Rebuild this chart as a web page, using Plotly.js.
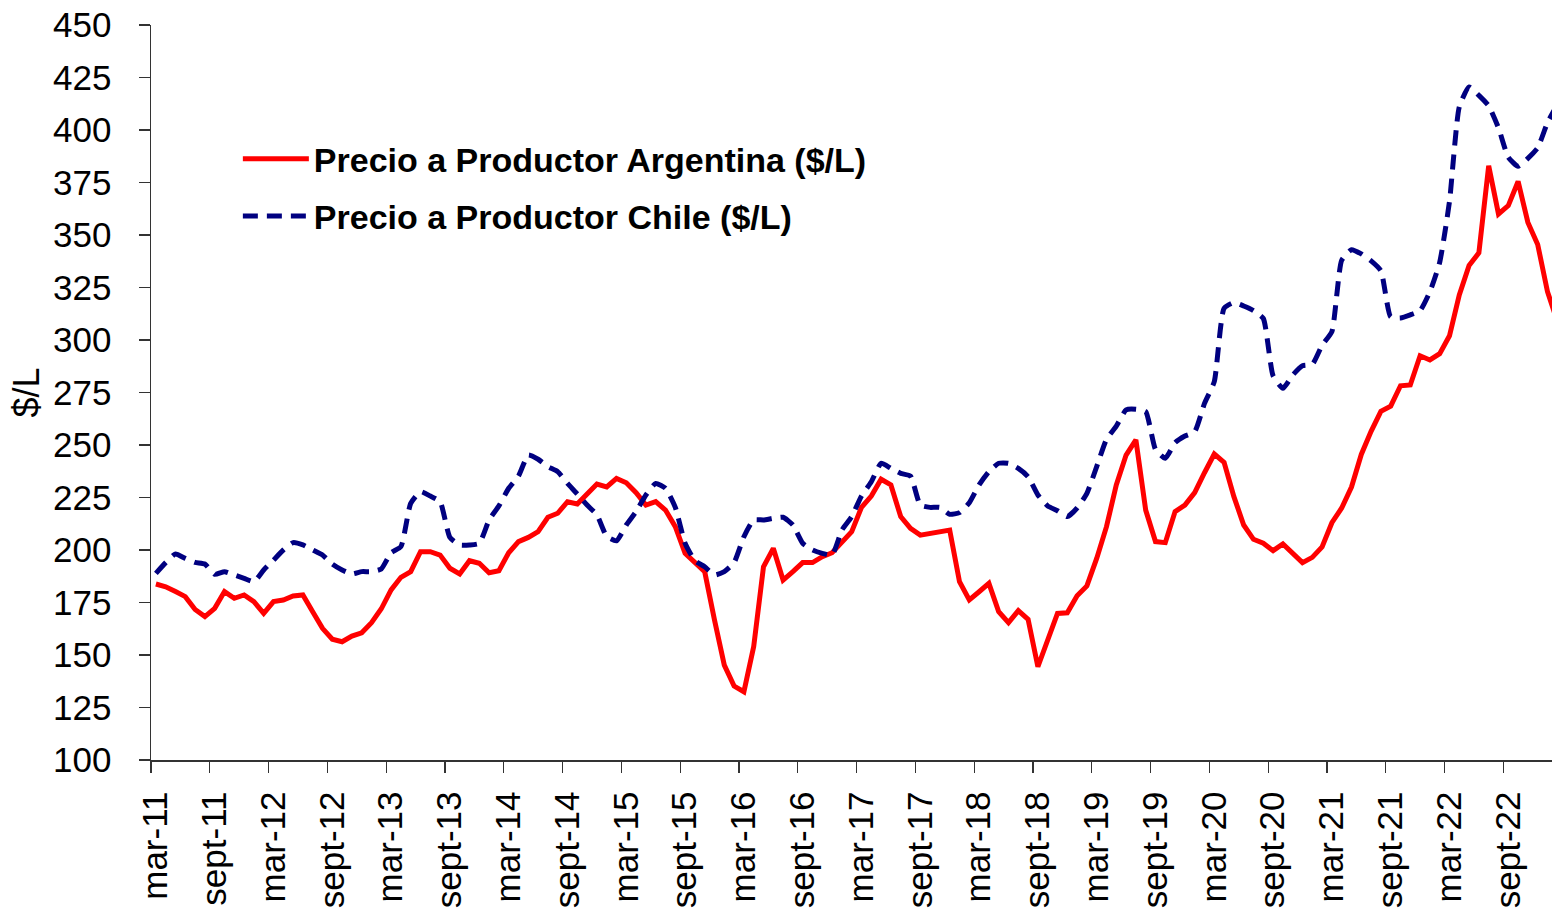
<!DOCTYPE html>
<html>
<head>
<meta charset="utf-8">
<script src="https://cdn.plot.ly/plotly-3.0.1.min.js"></script>
<style>
  html, body { margin: 0; padding: 0; background: #ffffff; }
  #chart { width: 1552px; height: 912px; }
</style>
</head>
<body>
<div id="chart"></div>
<script>
// Month abbreviations (Spanish) and years used to build the monthly categories
const monthNames = ["ene", "feb", "mar", "abr", "may", "jun", "jul", "ago", "sept", "oct", "nov", "dic"];
const firstYear = 2011;
const firstMonthIndex = 2; // march

// Series names
const nameArgentina = "Precio a Productor Argentina ($/L)";
const nameChile = "Precio a Productor Chile ($/L)";

// Producer price Argentina ($/L), monthly from mar-11
const argentina = [
  183.8, 182.5, 180.2, 177.8, 171.7, 168.3, 172.2, 180.2, 177.0, 178.6,
  175.4, 169.8, 175.4, 176.2, 178.1, 178.6, 170.6, 162.7, 157.5, 156.3,
  159.0, 160.6, 165.4, 172.0, 181.0, 187.0, 189.7, 199.2, 199.2, 197.6,
  191.3, 188.6, 194.9, 193.7, 189.2, 190.1, 198.7, 204.0, 206.0, 208.7,
  215.6, 217.5, 223.0, 221.9, 226.7, 231.4, 230.0, 234.1, 232.0, 227.3,
  221.4, 223.0, 219.0, 211.1, 198.4, 194.0, 189.7, 166.7, 145.2, 135.2,
  132.5, 154.0, 192.0, 200.8, 185.7, 189.7, 194.0, 194.0, 196.8, 198.7,
  204.0, 208.7, 220.3, 225.7, 233.7, 231.0, 215.9, 210.3, 207.1, 207.9,
  208.7, 209.5, 184.9, 176.2, 180.1, 184.1, 170.6, 165.4, 171.1, 167.0,
  144.4, 157.1, 169.8, 170.1, 178.2, 182.9, 196.0, 211.1, 231.0, 245.2,
  252.4, 219.0, 204.0, 203.5, 218.3, 221.4, 227.3, 236.8, 245.7, 241.7,
  225.4, 211.9, 205.1, 203.2, 199.7, 202.9, 198.7, 194.0, 196.5, 201.5,
  213.0, 220.0, 230.0, 245.5, 256.5, 266.0, 268.5, 278.2, 278.6, 292.5,
  290.5, 293.5, 302.0, 321.5, 335.5, 341.5, 383.0, 360.0, 364.0, 375.5,
  356.0, 345.5, 323.0, 309.0
];

// Producer price Chile ($/L), monthly from mar-11
const chile = [
  188.9, 194.0, 198.1, 196.0, 194.1, 193.3, 188.4, 189.7, 188.1, 186.5,
  184.9, 190.5, 195.2, 200.0, 203.5, 202.4, 200.0, 197.6, 193.3, 190.5,
  188.6, 189.7, 189.7, 191.0, 198.7, 201.6, 222.2, 227.8, 225.7, 223.0,
  206.0, 202.4, 202.4, 203.2, 214.3, 221.0, 229.4, 235.2, 245.2, 243.2,
  239.7, 237.3, 231.7, 226.7, 221.4, 216.7, 206.5, 204.4, 211.9, 218.3,
  226.2, 231.7, 229.4, 220.3, 203.2, 194.9, 192.0, 188.1, 189.7, 194.0,
  206.3, 214.3, 214.3, 215.1, 215.6, 211.9, 203.2, 200.0, 198.4, 197.6,
  209.5, 215.9, 225.7, 232.5, 241.3, 238.9, 236.5, 235.2, 221.4, 220.3,
  220.3, 217.0, 217.8, 222.5, 231.0, 237.3, 241.3, 241.3, 238.9, 234.9,
  226.2, 221.0, 218.7, 215.9, 220.0, 227.0, 239.7, 252.7, 259.0, 266.7,
  267.0, 265.9, 247.9, 243.7, 251.1, 254.3, 256.3, 269.8, 280.2, 315.1,
  317.8, 316.2, 314.0, 310.3, 283.0, 277.0, 283.3, 287.7, 288.4, 297.5,
  304.0, 338.0, 343.0, 341.0, 337.7, 333.0, 311.0, 310.5, 312.0, 314.0,
  323.0, 337.0, 366.0, 411.0, 420.5, 416.5, 411.5, 401.0, 387.0, 382.7,
  386.5, 391.5, 403.5, 412.0
];

// Monthly category labels, e.g. "mar-11", "abr-11", ...
const months = argentina.map(function (_, i) {
  const m = (firstMonthIndex + i) % 12;
  const y = firstYear + Math.floor((firstMonthIndex + i) / 12);
  return monthNames[m] + "-" + String(y).slice(-2);
});

const FONT = "Liberation Sans, Arial, Helvetica, sans-serif";

const traces = [
  {
    x: months,
    y: argentina,
    name: nameArgentina,
    type: "scatter",
    mode: "lines",
    legendgroup: "a",
    line: { color: "#FF0000", width: 5, shape: "linear" }
  },
  {
    x: months,
    y: chile,
    name: nameChile,
    type: "scatter",
    mode: "lines",
    legendgroup: "c",
    line: { color: "#000080", width: 5, dash: "15px,9px", shape: "spline", smoothing: 0.5 }
  }
];

const layout = {
  width: 1552,
  height: 912,
  margin: { l: 151, r: 0, t: 25, b: 152, pad: 0 },
  paper_bgcolor: "#ffffff",
  plot_bgcolor: "#ffffff",
  font: { family: FONT, color: "#000000" },
  showlegend: true,
  legend: {
    x: 0.062,
    y: 0.857,
    xanchor: "left",
    yanchor: "top",
    bgcolor: "rgba(0,0,0,0)",
    borderwidth: 0,
    itemwidth: 66,
    traceorder: "grouped",
    tracegroupgap: 10,
    font: { family: FONT, size: 34, color: "#000000", weight: "bold" }
  },
  xaxis: {
    type: "category",
    range: [-0.5, 142.46],
    tickmode: "linear",
    tick0: 0,
    dtick: 6,
    tickson: "boundaries",
    ticks: "outside",
    ticklen: 11,
    tickwidth: 1.3,
    tickcolor: "#333333",
    tickangle: -90,
    ticklabelstandoff: 16,
    tickfont: { family: FONT, size: 35, color: "#000000" },
    showline: true,
    linecolor: "#333333",
    linewidth: 1.5,
    showgrid: false,
    zeroline: false,
    automargin: false
  },
  yaxis: {
    range: [100, 450],
    tickmode: "linear",
    tick0: 100,
    dtick: 25,
    ticks: "outside",
    ticklen: 11,
    tickwidth: 1.3,
    tickcolor: "#333333",
    ticklabelstandoff: 20,
    tickfont: { family: FONT, size: 35, color: "#000000" },
    showline: true,
    linecolor: "#333333",
    linewidth: 1.5,
    showgrid: false,
    zeroline: false,
    automargin: false,
    title: { text: "$/L", font: { family: FONT, size: 36, color: "#000000" }, standoff: 2 }
  }
};

Plotly.newPlot("chart", traces, layout, { displayModeBar: false, staticPlot: true });
</script>
</body>
</html>
